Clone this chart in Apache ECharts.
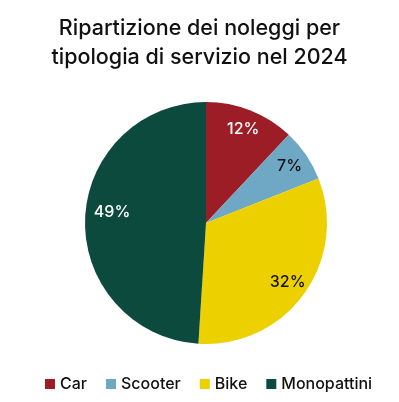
<!DOCTYPE html>
<html lang="it">
<head>
<meta charset="UTF-8">
<title>Ripartizione dei noleggi</title>
<style>
    html, body { margin: 0; padding: 0; background: #fff; }
    #main { width: 399px; height: 402px; }
</style>
</head>
<body>
<div id="main"></div>
<script src="https://cdn.jsdelivr.net/npm/echarts@6/dist/echarts.min.js"></script>
<script>
    // dati
    var categorie = ['Car', 'Scooter', 'Bike', 'Monopattini'];
    var percentuali = [12, 7, 32, 49];
    var colori = ['#9c1d26', '#6fa8c4', '#edd000', '#0b4a3c'];
    var coloriEtichette = ['#ffffff', '#111111', '#111111', '#ffffff'];

    var chart = echarts.init(document.getElementById('main'));
    var font = 'Inter, "Open Sans", sans-serif';
    var centro = [206, 223];

    var fette = categorie.map(function (nome, i) {
        return { name: nome, value: percentuali[i], itemStyle: { color: colori[i] } };
    });
    // serie trasparente solo per posizionare le etichette piu' verso il bordo
    var etichette = categorie.map(function (nome, i) {
        var item = { name: nome, value: percentuali[i], label: { color: coloriEtichette[i] } };
        if (nome === 'Monopattini') item.label.offset = [7, -8];
        return item;
    });

    chart.setOption({
        backgroundColor: '#fff',
        animation: false,
        title: {
            text: 'Ripartizione dei noleggi per\ntipologia di servizio nel 2024',
            left: 'center',
            top: 9,
            textStyle: {
                fontFamily: font, fontSize: 21.5, fontWeight: 500,
                color: '#111', lineHeight: 29
            }
        },
        legend: {
            bottom: 5,
            left: 40,
            itemWidth: 10,
            itemHeight: 10,
            itemGap: 19,
            icon: 'rect',
            textStyle: { fontFamily: font, fontSize: 16, fontWeight: 500, color: '#111' },
            data: categorie
        },
        series: [
            {
                type: 'pie',
                center: centro,
                radius: [0, 121],
                startAngle: 90,
                clockwise: true,
                label: { show: false },
                labelLine: { show: false },
                itemStyle: { borderWidth: 0 },
                emphasis: { disabled: true },
                data: fette
            },
            {
                type: 'pie',
                center: centro,
                radius: [78, 118],
                startAngle: 90,
                clockwise: true,
                silent: true,
                legendHoverLink: false,
                itemStyle: { color: 'rgba(0,0,0,0)' },
                label: {
                    show: true,
                    position: 'inside',
                    formatter: '{c}%',
                    fontFamily: font,
                    fontSize: 16,
                    fontWeight: 500
                },
                labelLine: { show: false },
                emphasis: { disabled: true },
                data: etichette
            }
        ]
    });
</script>
</body>
</html>
